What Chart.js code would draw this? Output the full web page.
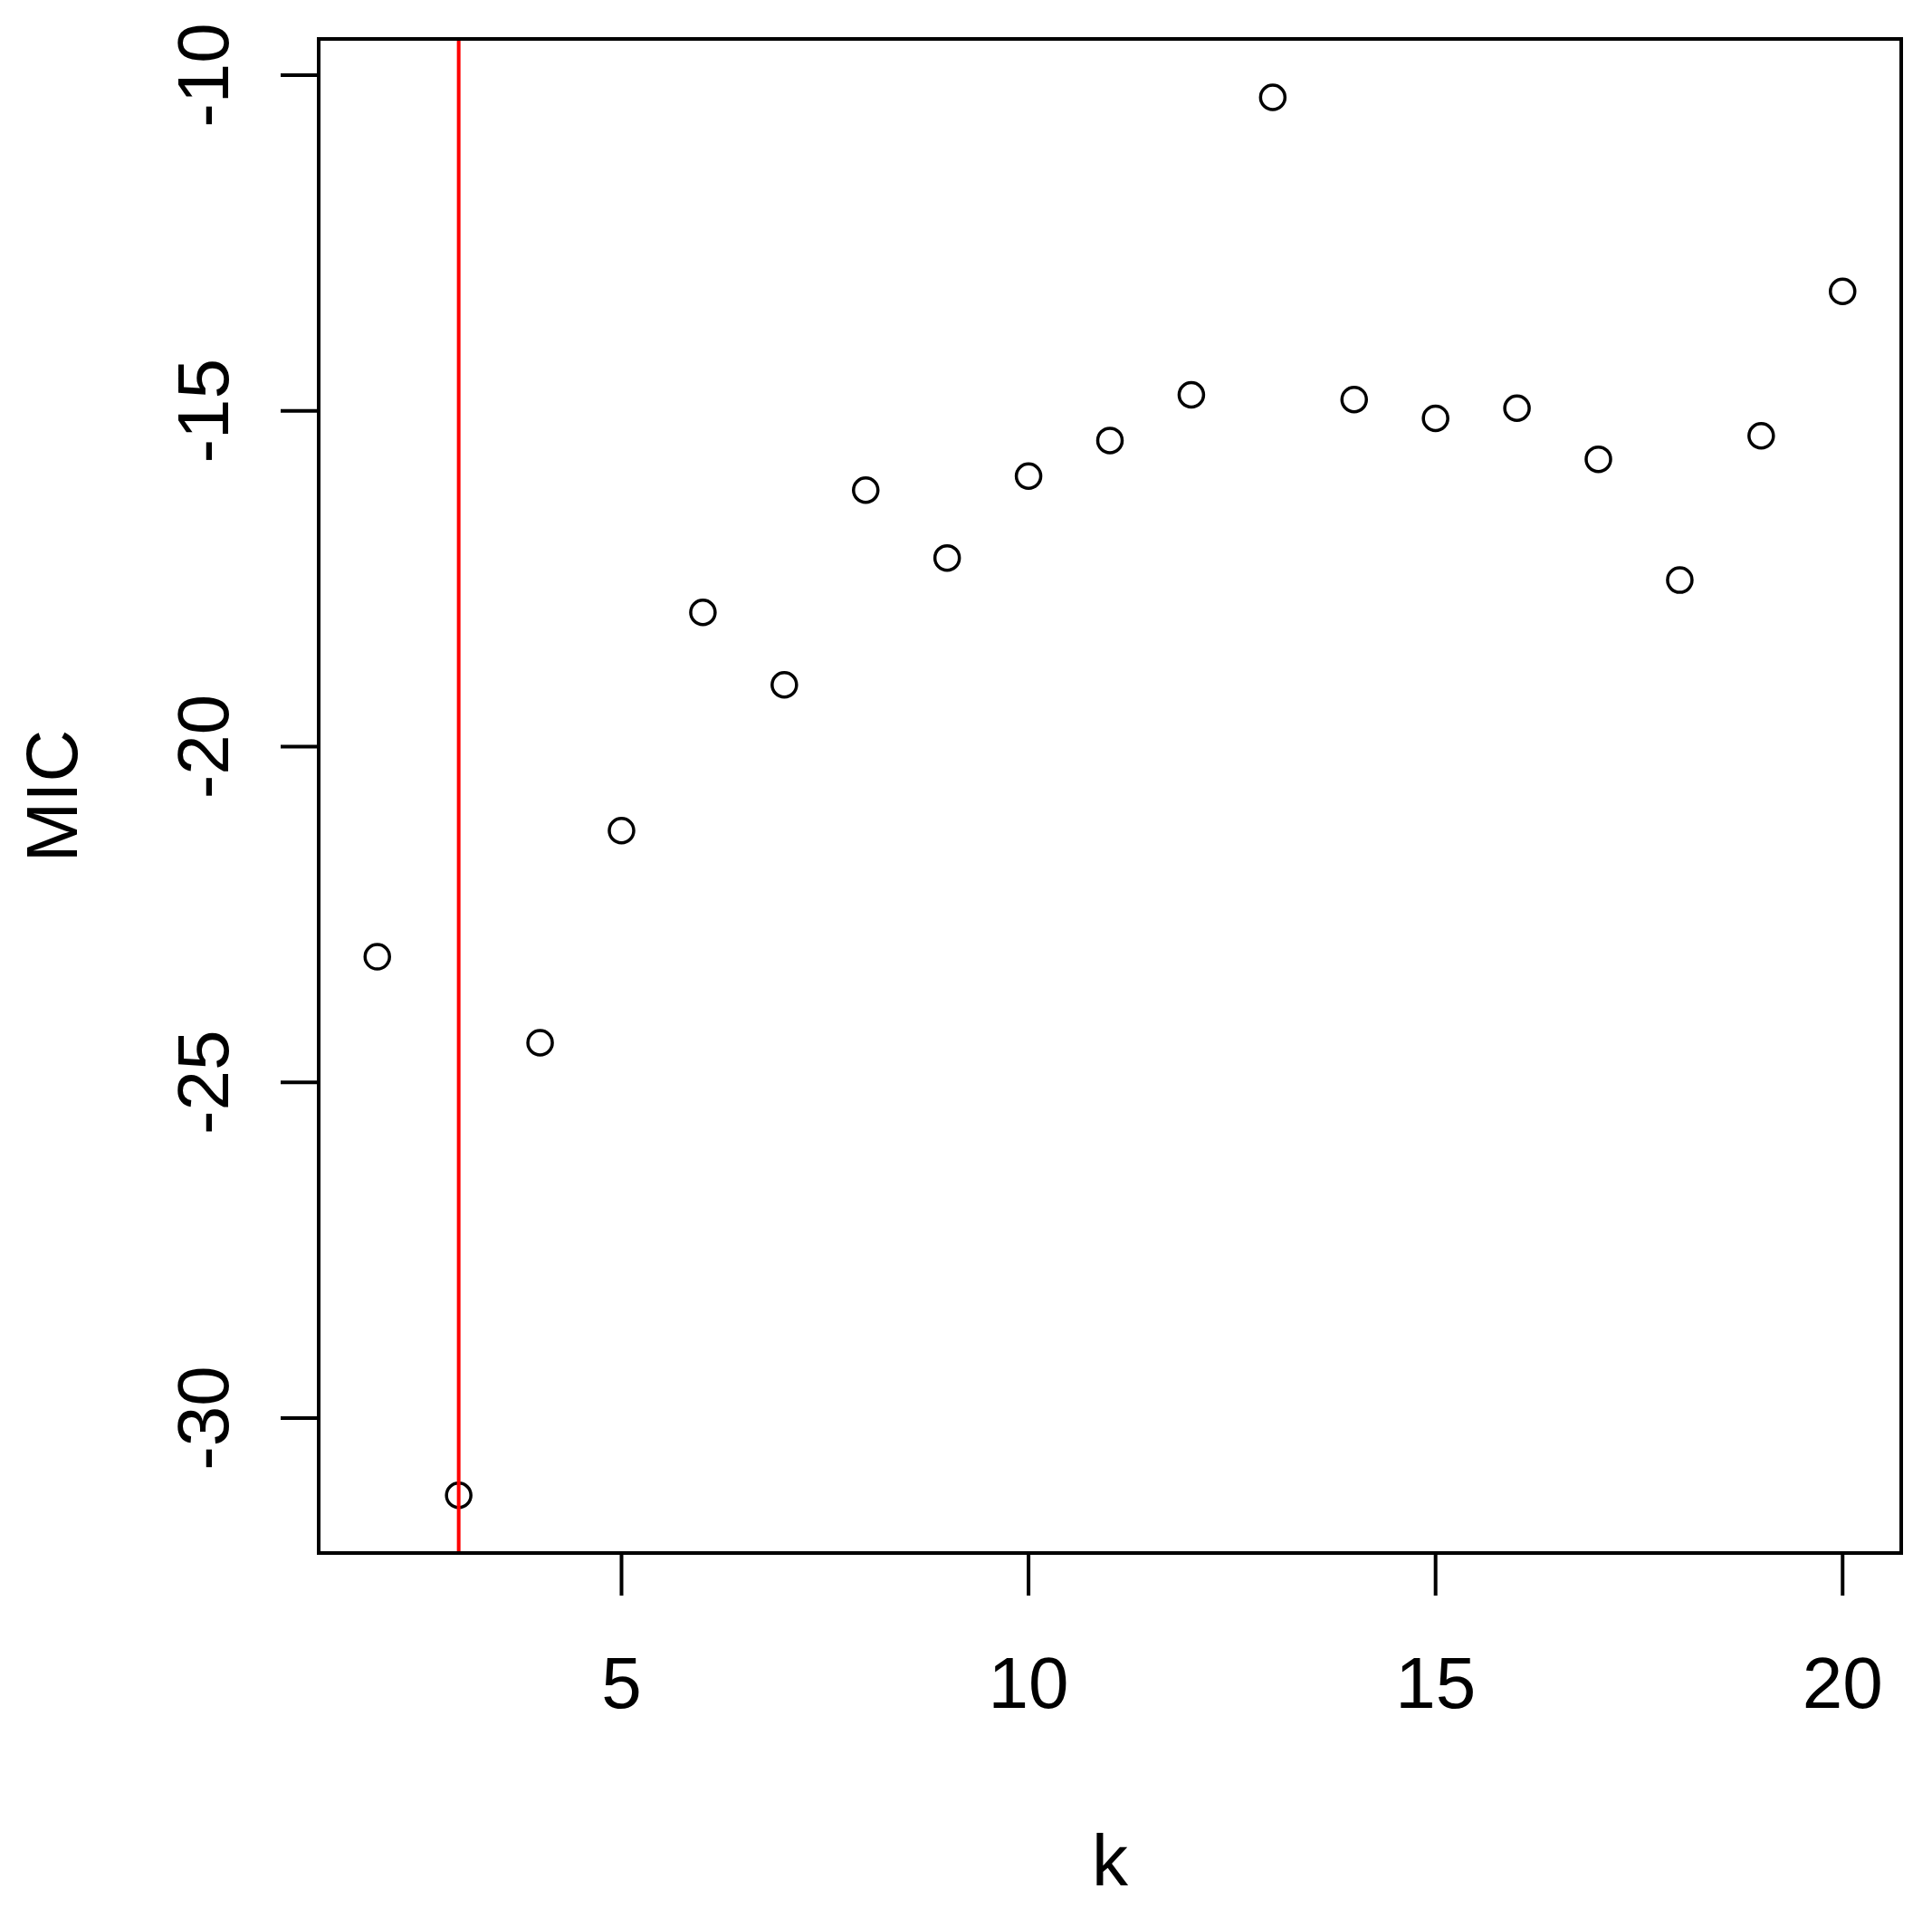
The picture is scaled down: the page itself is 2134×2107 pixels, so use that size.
<!DOCTYPE html>
<html>
<head>
<meta charset="utf-8">
<script src="https://cdn.jsdelivr.net/npm/chart.js@4.4.0/dist/chart.umd.min.js"></script>
<style>
  html, body { margin: 0; padding: 0; background: #fff; }
  #wrap { width: 2134px; height: 2107px; }
</style>
</head>
<body>
<div id="wrap"><canvas id="micChart"></canvas></div>
<script>
// values
var kValues = [2, 3, 4, 5, 6, 7, 8, 9, 10, 11, 12, 13, 14, 15, 16, 17, 18, 19, 20];
var micValues = [-23.13, -31.15, -24.41, -21.25, -18.0, -19.08, -16.18, -17.19, -15.97, -15.44,
                 -14.76, -10.33, -14.83, -15.11, -14.96, -15.72, -17.52, -15.37, -13.22];
var xTicks = [5, 10, 15, 20];
var yTicks = [-30, -25, -20, -15, -10];
var bestK = 3;   // red vertical line
var xTitle = 'k';
var yTitle = 'MIC';
var yLimits = [-32.01, -9.46];

var points = [];
for (var i = 0; i < kValues.length; i++) {
  points.push({x: kValues[i], y: micValues[i]});
}

// R style: range padded by 4%
function padRange(arr) {
  var lo = Math.min.apply(null, arr), hi = Math.max.apply(null, arr);
  var d = (hi - lo) * 0.04;
  return [lo - d, hi + d];
}
var xr = padRange(kValues);

var FONT = '80px "Liberation Sans", Arial, sans-serif';

var rAxes = {
  id: 'rAxes',
  afterDatasetsDraw: function(chart) {
    var ctx = chart.ctx;
    var a = chart.chartArea;
    var xs = chart.scales.x, ys = chart.scales.y;
    ctx.save();

    // abline(v = bestK)
    var vx = xs.getPixelForValue(bestK);
    ctx.strokeStyle = '#ff0000';
    ctx.lineWidth = 4;
    ctx.beginPath();
    ctx.moveTo(vx, a.top);
    ctx.lineTo(vx, a.bottom);
    ctx.stroke();

    // box
    ctx.strokeStyle = '#000';
    ctx.lineWidth = 4;
    ctx.strokeRect(a.left, a.top, a.right - a.left, a.bottom - a.top);

    ctx.fillStyle = '#000';
    ctx.font = FONT;

    // x axis ticks + labels
    ctx.textAlign = 'center';
    ctx.textBaseline = 'alphabetic';
    xTicks.forEach(function(t) {
      var px = xs.getPixelForValue(t);
      ctx.beginPath();
      ctx.moveTo(px, a.bottom);
      ctx.lineTo(px, a.bottom + 47);
      ctx.stroke();
      ctx.fillText(String(t), px, 1886);
    });

    // y axis ticks + rotated labels
    yTicks.forEach(function(t) {
      var py = ys.getPixelForValue(t);
      ctx.beginPath();
      ctx.moveTo(a.left, py);
      ctx.lineTo(a.left - 42, py);
      ctx.stroke();
      ctx.save();
      ctx.translate(252, py);
      ctx.rotate(-Math.PI / 2);
      ctx.fillText(String(t), 0, 0);
      ctx.restore();
    });

    // axis titles
    ctx.fillText(xTitle, (a.left + a.right) / 2, 2082);
    ctx.save();
    ctx.translate(85, (a.top + a.bottom) / 2);
    ctx.rotate(-Math.PI / 2);
    ctx.fillText(yTitle, 0, 0);
    ctx.restore();

    ctx.restore();
  }
};

var ctx = document.getElementById('micChart');
var chart = new Chart(ctx, {
  type: 'scatter',
  data: {
    datasets: [{
      label: 'MIC',
      data: points,
      pointStyle: 'circle',
      pointRadius: 13.5,
      pointHoverRadius: 13.5,
      pointBorderWidth: 3.5,
      pointBackgroundColor: 'rgba(0,0,0,0)',
      pointBorderColor: '#000'
    }]
  },
  options: {
    responsive: true,
    maintainAspectRatio: false,
    animation: false,
    events: [],
    layout: { padding: { left: 352, top: 43, right: 34, bottom: 392 } },
    plugins: { legend: { display: false }, tooltip: { enabled: false } },
    scales: {
      x: { type: 'linear', display: false, min: xr[0], max: xr[1] },
      y: { type: 'linear', display: false, min: yLimits[0], max: yLimits[1] }
    }
  },
  plugins: [rAxes]
});
</script>
</body>
</html>
